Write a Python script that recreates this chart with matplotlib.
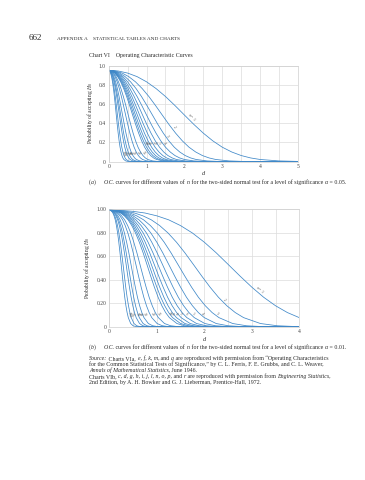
import math

import matplotlib
matplotlib.use("Agg")
import matplotlib.pyplot as plt

plt.rcParams["font.family"] = ["Liberation Serif", "DejaVu Serif"]
plt.rcParams["mathtext.fontset"] = "custom"
plt.rcParams["mathtext.rm"] = "Liberation Serif"
plt.rcParams["mathtext.it"] = "Liberation Serif:italic"

# sample sizes n, one curve each
SAMPLE_SIZES = [1, 2, 3, 4, 5, 6, 7, 8, 9, 10, 15, 20, 30, 40, 50, 75, 100]

# d at which each curve passes the probability levels listed in BETA_A / BETA_B
D_POINTS = [
    [0, .25, .5, .75, 1, 1.25, 1.5, 1.75, 2, 2.25, 2.5, 2.75, 3, 3.25, 3.5, 3.75, 4, 4.5, 5, 5.5],
    [0, .177, .354, .530, .707, .884, 1.061, 1.237, 1.414, 1.591, 1.768, 1.945, 2.121, 2.298, 2.475, 2.652, 2.828, 3.182, 3.536, 3.889],
    [0, .144, .289, .433, .577, .722, .866, 1.010, 1.155, 1.299, 1.443, 1.588, 1.732, 1.876, 2.021, 2.165, 2.309, 2.598, 2.887, 3.175],
    [0, .125, .25, .375, .5, .625, .75, .875, 1.0, 1.125, 1.25, 1.375, 1.5, 1.625, 1.75, 1.875, 2.0, 2.25, 2.5, 2.75],
    [0, .112, .224, .335, .447, .559, .671, .783, .894, 1.006, 1.118, 1.230, 1.342, 1.453, 1.565, 1.677, 1.789, 2.012, 2.236, 2.460],
    [0, .102, .204, .306, .408, .510, .612, .714, .816, .919, 1.021, 1.123, 1.225, 1.327, 1.429, 1.531, 1.633, 1.837, 2.041, 2.245],
    [0, .094, .189, .283, .378, .472, .567, .661, .756, .850, .945, 1.039, 1.134, 1.228, 1.323, 1.417, 1.512, 1.701, 1.890, 2.079],
    [0, .088, .177, .265, .354, .442, .530, .619, .707, .795, .884, .972, 1.061, 1.149, 1.237, 1.326, 1.414, 1.591, 1.768, 1.945],
    [0, .083, .167, .25, .333, .417, .5, .583, .667, .75, .833, .917, 1.0, 1.083, 1.167, 1.25, 1.333, 1.5, 1.667, 1.833],
    [0, .079, .158, .237, .316, .395, .474, .553, .632, .712, .791, .870, .949, 1.028, 1.107, 1.186, 1.265, 1.423, 1.581, 1.739],
    [0, .065, .129, .194, .258, .323, .387, .452, .516, .581, .645, .710, .775, .839, .904, .968, 1.033, 1.162, 1.291, 1.420],
    [0, .056, .112, .168, .224, .280, .335, .391, .447, .503, .559, .615, .671, .727, .783, .839, .894, 1.006, 1.118, 1.230],
    [0, .046, .091, .137, .183, .228, .274, .319, .365, .411, .456, .502, .548, .593, .639, .685, .730, .822, .913, 1.004],
    [0, .040, .079, .119, .158, .198, .237, .277, .316, .356, .395, .435, .474, .514, .553, .593, .632, .711, .791, .870],
    [0, .035, .071, .106, .141, .177, .212, .247, .283, .318, .354, .389, .424, .460, .495, .530, .566, .636, .707, .778],
    [0, .029, .058, .087, .115, .144, .173, .202, .231, .260, .289, .318, .346, .375, .404, .433, .462, .520, .577, .635],
    [0, .025, .05, .075, .1, .125, .15, .175, .2, .225, .25, .275, .3, .325, .35, .375, .4, .45, .5, .55],
]

# probability of accepting H0, alpha = 0.05 (chart a) and alpha = 0.01 (chart b)
BETA_A = [0.950, 0.943, 0.921, 0.884, 0.830, 0.760, 0.677, 0.583, 0.484, 0.386,
          0.295, 0.215, 0.149, 0.099, 0.062, 0.037, 0.021, 0.006, 0.001, 0.0002]
BETA_B = [0.990, 0.988, 0.980, 0.966, 0.942, 0.908, 0.859, 0.796, 0.718, 0.628,
          0.530, 0.431, 0.336, 0.250, 0.178, 0.120, 0.077, 0.027, 0.008, 0.002]

X_TICKS_A = ["0", "1", "2", "3", "4", "5"]
Y_TICKS_A = ["0", "0.2", "0.4", "0.6", "0.8", "1.0"]
X_TICKS_B = ["0", "1", "2", "3", "4"]
Y_TICKS_B = ["0", "0.20", "0.40", "0.60", "0.80", "1.00"]

# where along each curve its n label sits (index of segment)
LABEL_SEG_A = [8, 9, 10, 11, 11, 11, 11, 11, 11, 11, 13, 13, 13, 13, 13, 13, 13]
LABEL_SEG_B = [12, 13, 15, 15, 15, 15, 15, 15, 15, 15, 15, 15, 15, 15, 15, 15, 15]

BLUE = "#3f88c8"
TEXT = "#2b2b2b"
W, H = 365, 480

fig = plt.figure(figsize=(W / 100, H / 100), dpi=100)


def box(left, top, right, bottom):
    return [left / W, 1 - bottom / H, (right - left) / W, (bottom - top) / H]


def draw_chart(ax, beta, xticks, yticks, label_seg):
    xmax = len(xticks) - 1
    ax.set_xlim(0, xmax)
    ax.set_ylim(0, 1)
    ax.set_xticks(range(len(xticks)), xticks)
    ax.set_xticks([i + 0.5 for i in range(xmax)], minor=True)
    ax.set_yticks([i * 0.2 for i in range(len(yticks))], yticks)
    ax.grid(which="both", color="#dcdcdc", lw=0.5)
    ax.set_axisbelow(True)
    for s in ax.spines.values():
        s.set_color("#cfcfcf")
        s.set_linewidth(0.5)
    ax.tick_params(which="both", length=0, labelsize=4, pad=2, colors="#444444")
    ax.set_xlabel("d", style="italic", fontsize=4.5, labelpad=1.5, color=TEXT)
    ax.set_ylabel(r"Probability of accepting $H_0$", fontsize=4, labelpad=3, color=TEXT)

    for n, d, seg in zip(SAMPLE_SIZES, D_POINTS, label_seg):
        xs = list(d) + [max(xmax, d[-1])]
        ys = list(beta) + [0.0]
        ax.plot(xs, ys, color=BLUE, lw=0.55)

        p0 = ax.transData.transform((d[seg], beta[seg]))
        p1 = ax.transData.transform((d[seg + 1], beta[seg + 1]))
        ang = math.degrees(math.atan2(p1[1] - p0[1], p1[0] - p0[0]))
        xm = (d[seg] + d[seg + 1]) / 2
        ym = (beta[seg] + beta[seg + 1]) / 2
        lab = r"$n$ = 1" if n == 1 else str(n)
        ax.text(xm, ym, lab, fontsize=2.8, color="#555555", rotation=ang,
                rotation_mode="anchor", ha="center", va="bottom")


def runs(x, y, parts, size=4.2):
    r = fig.canvas.get_renderer()
    for txt, style in parts:
        t = fig.text(x / W, 1 - y / H, txt, fontsize=size, style=style,
                     color=TEXT, va="baseline")
        x += t.get_window_extent(r).width


# header
fig.text(29 / W, 1 - 40 / H, "662", fontsize=6.5, color=TEXT, va="baseline")
fig.text(57 / W, 1 - 40 / H, "APPENDIX A    STATISTICAL TABLES AND CHARTS",
         fontsize=3.8, color=TEXT, va="baseline")
fig.text(89 / W, 1 - 57 / H, "Chart VI    Operating Characteristic Curves",
         fontsize=4.2, color=TEXT, va="baseline")

ax_a = fig.add_axes(box(108.7, 65.5, 298, 161.5))
draw_chart(ax_a, BETA_A, X_TICKS_A, Y_TICKS_A, LABEL_SEG_A)

ax_b = fig.add_axes(box(109.3, 209, 299.3, 326.7))
draw_chart(ax_b, BETA_B, X_TICKS_B, Y_TICKS_B, LABEL_SEG_B)

runs(89, 184, [("(", "normal"), ("a", "italic"), (")     ", "normal"), ("O.C.", "italic"),
               (" curves for different values of ", "normal"), ("n", "italic"),
               (" for the two-sided normal test for a level of significance ", "normal"),
               ("\u03b1", "italic"), (" = 0.05.", "normal")])

runs(89, 349, [("(", "normal"), ("b", "italic"), (")     ", "normal"), ("O.C.", "italic"),
               (" curves for different values of ", "normal"), ("n", "italic"),
               (" for the two-sided normal test for a level of significance ", "normal"),
               ("\u03b1", "italic"), (" = 0.01.", "normal")])

runs(89, 360, [("Source:", "italic"), (" Charts VIa, ", "normal"), ("e, f, k, m,", "italic"),
               (" and ", "normal"), ("q", "italic"),
               (" are reproduced with permission from \u201cOperating Characteristics", "normal")])
runs(89, 366, [("for the Common Statistical Tests of Significance,\u201d by C. L. Ferris, "
                "F. E. Grubbs, and C. L. Weaver,", "normal")])
runs(89, 372, [("Annals of Mathematical Statistics,", "italic"), (" June 1946.", "normal")])
runs(89, 378, [("Charts VIb, ", "normal"), ("c, d, g, h, i, j, l, n, o, p,", "italic"),
               (" and ", "normal"), ("r", "italic"),
               (" are reproduced with permission from ", "normal"),
               ("Engineering Statistics,", "italic")])
runs(89, 384, [("2nd Edition, by A. H. Bowker and G. J. Lieberman, Prentice-Hall, 1972.", "normal")])

fig.savefig("out.png", dpi=100)
